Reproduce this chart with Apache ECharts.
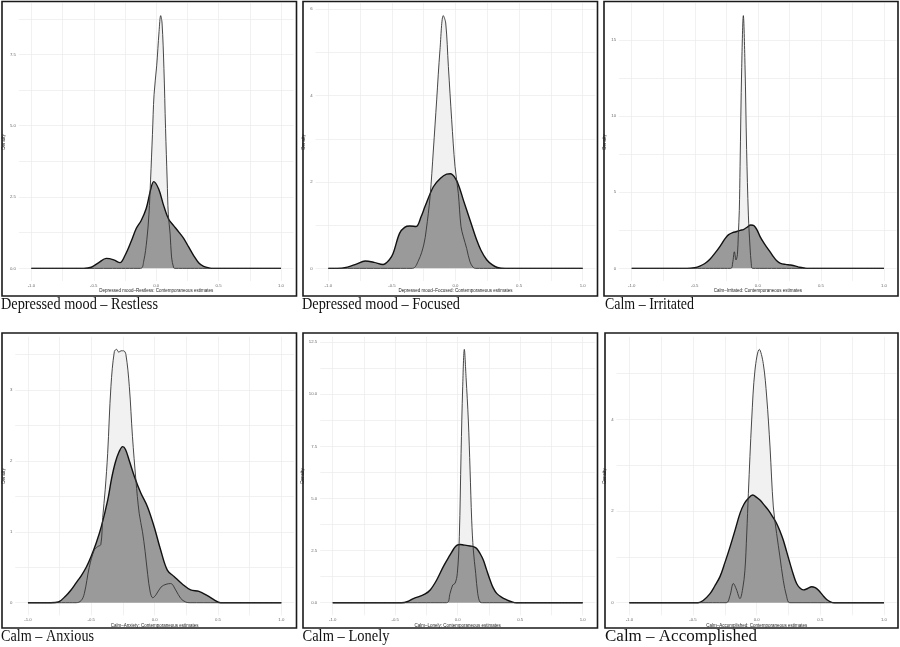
<!DOCTYPE html>
<html><head><meta charset="utf-8">
<script src="https://cdn.jsdelivr.net/npm/echarts@6/dist/echarts.min.js"></script>
<style>html,body{margin:0;padding:0;background:#fff}#c{width:900px;height:647px}</style>
</head><body><div id="c"></div>
<script>
// ---------- data ----------
const panelTitles = ['Depressed mood \u2013 Restless', 'Depressed mood \u2013 Focused', 'Calm \u2013 Irritated',
  'Calm \u2013 Anxious', 'Calm \u2013 Lonely', 'Calm \u2013 Accomplished'];
const xAxisTitles = ['Depressed mood\u2013Restless: Contemporaneous estimates', 'Depressed mood\u2013Focused: Contemporaneous estimates',
  'Calm\u2013Irritated: Contemporaneous estimates', 'Calm\u2013Anxiety: Contemporaneous estimates',
  'Calm\u2013Lonely: Contemporaneous estimates', 'Calm\u2013Accomplished: Contemporaneous estimates'];
const xMajorTicks = [-1, -0.5, 0, 0.5, 1];
const xMinorTicks = [-0.75, -0.25, 0.25, 0.75];
const yTicksRestless = [0, 2.5, 5, 7.5];
const yTicksFocused = [0, 2, 4, 6];
const yTicksIrritated = [0, 5, 10, 15];
const yTicksAnxious = [0, 1, 2, 3];
const yTicksLonely = [0, 2.5, 5, 7.5, 10, 12.5];
const yTicksAccomplished = [0, 2, 4];
const yTickDecimals = [1, 0, 0, 0, 1, 0];

const restlessNarrow = [[-1,0],[-0.125,0],[-0.1,0.25],[-0.075,1.0],[-0.058,1.9],[-0.045,3.1],[-0.03,4.7],[-0.017,6.1],[0.004,7.1],[0.023,8.3],[0.036,8.86],[0.047,8.6],[0.062,7.0],[0.075,4.9],[0.088,3.1],[0.097,1.9],[0.112,1.2],[0.123,0.4],[0.14,0.02],[0.15,0],[1,0]];
const restlessWide = [[-1,0],[-0.58,0],[-0.52,0.04],[-0.46,0.2],[-0.4,0.35],[-0.34,0.3],[-0.29,0.2],[-0.25,0.45],[-0.2,0.95],[-0.16,1.4],[-0.12,1.68],[-0.08,2.1],[-0.045,2.75],[-0.02,3.04],[0.02,2.78],[0.06,2.2],[0.1,1.72],[0.14,1.5],[0.18,1.28],[0.22,1.05],[0.26,0.75],[0.3,0.45],[0.34,0.2],[0.38,0.07],[0.43,0.01],[0.46,0],[1,0]];

const focusedNarrow = [[-1,0],[-0.34,0],[-0.29,0.19],[-0.25,0.54],[-0.23,0.89],[-0.2,1.66],[-0.174,2.74],[-0.148,3.9],[-0.122,5.06],[-0.096,5.85],[-0.077,5.68],[-0.056,4.67],[-0.03,3.44],[-0.004,2.36],[0.022,1.74],[0.043,0.97],[0.062,0.73],[0.088,0.46],[0.114,0.15],[0.14,0.02],[0.16,0],[1,0]];
const focusedWide = [[-1,0],[-0.93,0],[-0.85,0.03],[-0.78,0.1],[-0.71,0.17],[-0.64,0.14],[-0.57,0.09],[-0.52,0.2],[-0.49,0.35],[-0.44,0.81],[-0.4,0.95],[-0.36,0.98],[-0.31,0.97],[-0.27,1.2],[-0.24,1.43],[-0.174,1.89],[-0.12,2.08],[-0.07,2.18],[-0.04,2.19],[0.0,2.08],[0.03,1.88],[0.062,1.58],[0.114,1.12],[0.166,0.66],[0.2,0.42],[0.245,0.2],[0.29,0.08],[0.33,0.02],[0.39,0],[1,0]];

const irritatedNarrow = [[-1,0],[-0.215,0],[-0.2,0.35],[-0.186,1.09],[-0.173,0.55],[-0.162,0.9],[-0.155,2.2],[-0.147,3.8],[-0.141,6.7],[-0.128,13.2],[-0.115,16.6],[-0.102,13.4],[-0.089,7.8],[-0.075,3.5],[-0.062,1.4],[-0.052,0.3],[-0.043,0],[1,0]];
const irritatedWide = [[-1,0],[-0.56,0],[-0.5,0.05],[-0.46,0.15],[-0.42,0.32],[-0.38,0.6],[-0.34,1.0],[-0.3,1.45],[-0.26,1.95],[-0.234,2.2],[-0.2,2.35],[-0.167,2.42],[-0.14,2.5],[-0.115,2.55],[-0.085,2.7],[-0.056,2.85],[-0.03,2.8],[-0.005,2.5],[0.02,2.05],[0.045,1.7],[0.07,1.4],[0.1,1.05],[0.123,0.77],[0.15,0.5],[0.18,0.33],[0.22,0.26],[0.26,0.22],[0.3,0.15],[0.33,0.07],[0.37,0.02],[0.4,0],[1,0]];

const anxiousNarrow = [[-1,0],[-0.62,0],[-0.58,0.03],[-0.555,0.13],[-0.516,0.5],[-0.477,0.74],[-0.45,0.79],[-0.425,0.82],[-0.41,1.2],[-0.39,1.6],[-0.371,2.1],[-0.345,3.05],[-0.318,3.54],[-0.3,3.57],[-0.283,3.53],[-0.265,3.55],[-0.245,3.55],[-0.227,3.5],[-0.2,3.05],[-0.175,2.34],[-0.148,1.73],[-0.122,1.26],[-0.096,1.0],[-0.075,0.72],[-0.055,0.4],[-0.035,0.15],[-0.015,0.07],[0.01,0.11],[0.05,0.22],[0.09,0.26],[0.127,0.27],[0.166,0.18],[0.206,0.06],[0.245,0.01],[0.28,0],[1,0]];
const anxiousWide = [[-1,0],[-0.82,0],[-0.76,0.01],[-0.7,0.1],[-0.66,0.18],[-0.62,0.28],[-0.58,0.38],[-0.54,0.5],[-0.5,0.66],[-0.46,0.85],[-0.42,1.08],[-0.37,1.45],[-0.34,1.75],[-0.31,1.98],[-0.28,2.13],[-0.253,2.2],[-0.23,2.16],[-0.2,2.0],[-0.16,1.78],[-0.11,1.55],[-0.056,1.35],[-0.004,1.07],[0.048,0.74],[0.1,0.46],[0.153,0.37],[0.22,0.26],[0.284,0.18],[0.35,0.16],[0.416,0.1],[0.47,0.04],[0.52,0],[1,0]];

const lonelyNarrow = [[-1,0],[-0.09,0],[-0.061,0.45],[-0.04,0.85],[-0.021,0.93],[-0.003,1.41],[0.013,3.17],[0.027,7.16],[0.04,10.36],[0.053,12.15],[0.067,10.8],[0.085,8.76],[0.099,6.36],[0.112,3.96],[0.125,2.53],[0.144,1.41],[0.16,0.45],[0.179,0.03],[0.2,0],[1,0]];
const lonelyWide = [[-1,0],[-0.45,0],[-0.4,0.06],[-0.355,0.2],[-0.3,0.32],[-0.26,0.42],[-0.22,0.61],[-0.168,1.09],[-0.115,1.73],[-0.061,2.29],[-0.03,2.6],[-0.008,2.75],[0.02,2.79],[0.045,2.77],[0.099,2.72],[0.13,2.68],[0.152,2.6],[0.18,2.35],[0.205,2.05],[0.23,1.6],[0.259,1.09],[0.285,0.7],[0.312,0.45],[0.35,0.27],[0.392,0.14],[0.43,0.05],[0.47,0],[1,0]];

const accomplishedNarrow = [[-1,0],[-0.24,0],[-0.21,0.15],[-0.183,0.42],[-0.16,0.3],[-0.131,0.09],[-0.11,0.3],[-0.092,0.71],[-0.078,1.5],[-0.065,2.39],[-0.039,3.99],[-0.013,5.08],[0.021,5.53],[0.052,5.22],[0.079,4.49],[0.105,3.4],[0.131,2.09],[0.157,1.51],[0.183,1.0],[0.209,0.49],[0.236,0.13],[0.26,0],[1,0]];
const accomplishedWide = [[-1,0],[-0.46,0],[-0.42,0.05],[-0.366,0.2],[-0.33,0.36],[-0.288,0.57],[-0.25,0.87],[-0.209,1.22],[-0.17,1.58],[-0.131,1.95],[-0.1,2.15],[-0.065,2.28],[-0.031,2.35],[0.0,2.3],[0.026,2.24],[0.06,2.13],[0.092,2.02],[0.125,1.88],[0.157,1.73],[0.185,1.55],[0.209,1.37],[0.235,1.12],[0.262,0.86],[0.29,0.6],[0.314,0.42],[0.34,0.32],[0.366,0.28],[0.4,0.31],[0.432,0.35],[0.46,0.33],[0.484,0.28],[0.52,0.16],[0.55,0.07],[0.58,0.02],[0.61,0],[1,0]];

// ---------- assembly ----------
const narrowSets = [restlessNarrow, focusedNarrow, irritatedNarrow, anxiousNarrow, lonelyNarrow, accomplishedNarrow];
const wideSets = [restlessWide, focusedWide, irritatedWide, anxiousWide, lonelyWide, accomplishedWide];
const yTickSets = [yTicksRestless, yTicksFocused, yTicksIrritated, yTicksAnxious, yTicksLonely, yTicksAccomplished];

// layout: panel box, plot area, title placement (pixels)
const layout = [
  {bx: 2,   by: 1.5, bw: 294.5, bh: 294.5, L: 17.4,  R: 293.5, T: 3,     B: 281,   tx: 1,   ty: 304.5, tw: 157},
  {bx: 303, by: 1.5, bw: 294.5, bh: 294.5, L: 315.6, R: 595.4, T: 3,     B: 281,   tx: 302, ty: 304.5, tw: 158},
  {bx: 604, by: 1.5, bw: 294,   bh: 294.5, L: 619.1, R: 896.6, T: 3,     B: 281,   tx: 605, ty: 304.5, tw: 89},
  {bx: 2,   by: 333, bw: 294.5, bh: 295,   L: 14,    R: 294,   T: 336.7, B: 615.4, tx: 1,   ty: 636.5, tw: 93},
  {bx: 303, by: 333, bw: 294.5, bh: 295,   L: 320.2, R: 595.2, T: 336.7, B: 615.4, tx: 302.5, ty: 636.5, tw: 87},
  {bx: 605, by: 333, bw: 293,   bh: 295,   L: 616.6, R: 896.7, T: 336.7, B: 615.4, tx: 605, ty: 636.5, tw: 152}
];

const titleFont = '16.5px "Liberation Serif"';
const measureCtx = document.createElement('canvas').getContext('2d');
measureCtx.font = titleFont;

const grids = [], xAxes = [], yAxes = [], series = [], graphics = [];
const gridColor = '#ebebeb';
const tickText = {fontSize: 4.3, color: '#6a6a6a', fontFamily: 'Liberation Sans'};

layout.forEach((p, i) => {
  const maxY = Math.max(...narrowSets[i].map(d => d[1]), ...wideSets[i].map(d => d[1]));
  const yMin = -0.05 * maxY, yMax = 1.05 * maxY;
  const yMajor = yTickSets[i];
  const step = yMajor[1] - yMajor[0];
  const yAll = [];
  for (let k = 0; k < yMajor.length; k++) { yAll.push(yMajor[k]); yAll.push(yMajor[k] + step / 2); }
  const yGridVals = yAll.filter(v => v >= yMin && v <= yMax);
  const xGridVals = xMajorTicks.concat(xMinorTicks).sort((a, b) => a - b);

  grids.push({left: p.L, top: p.T, width: p.R - p.L, height: p.B - p.T, show: false, containLabel: false});
  xAxes.push({
    type: 'value', gridIndex: i, min: -1.1, max: 1.1,
    axisLine: {show: false},
    axisTick: {show: false, customValues: xGridVals},
    axisLabel: {customValues: xMajorTicks, formatter: v => v.toFixed(1), margin: 2.5, ...tickText},
    splitLine: {show: true, lineStyle: {color: gridColor, width: 0.7}},
    name: xAxisTitles[i], nameLocation: 'middle', nameGap: 6.5,
    nameTextStyle: {fontSize: 4.5, color: '#222', fontFamily: 'Liberation Sans'}
  });
  const densityCenter = p.bx + 4.8;
  yAxes.push({
    type: 'value', gridIndex: i, min: yMin, max: yMax,
    axisLine: {show: false},
    axisTick: {show: false, customValues: yGridVals},
    axisLabel: {customValues: yMajor, formatter: v => v.toFixed(yTickDecimals[i]), margin: 3, ...tickText},
    splitLine: {show: true, lineStyle: {color: gridColor, width: 0.7}},
    name: 'Density', nameLocation: 'middle', nameGap: p.L - densityCenter - 2.5,
    nameTextStyle: {fontSize: 4.7, color: '#222', fontFamily: 'Liberation Sans'}
  });
  series.push({
    type: 'line', xAxisIndex: i, yAxisIndex: i, data: narrowSets[i], smooth: 0.35, symbol: 'none',
    lineStyle: {width: 0}, areaStyle: {color: '#f1f1f1', opacity: 1}, z: 2, silent: true
  });
  series.push({
    type: 'line', xAxisIndex: i, yAxisIndex: i, data: wideSets[i], smooth: 0.35, symbol: 'none',
    lineStyle: {width: 1.4, color: '#111'}, areaStyle: {color: '#9a9a9a', opacity: 1}, z: 3, silent: true
  });
  series.push({
    type: 'line', xAxisIndex: i, yAxisIndex: i, data: narrowSets[i], smooth: 0.35, symbol: 'none',
    lineStyle: {width: 0.9, color: '#333'}, z: 4, silent: true
  });
  const natural = measureCtx.measureText(panelTitles[i]).width || p.tw;
  graphics.push({
    type: 'text', x: p.tx, y: p.ty, scaleX: p.tw / natural, scaleY: 1, silent: true, z: 100,
    style: {text: panelTitles[i], x: 0, y: 0, font: titleFont, fill: '#111', align: 'left', verticalAlign: 'middle'}
  });
  graphics.push({
    type: 'rect', shape: {x: p.bx, y: p.by, width: p.bw, height: p.bh},
    style: {fill: 'none', stroke: '#1a1a1a', lineWidth: 1.6}, z: 100, silent: true
  });
});

const chart = echarts.init(document.getElementById('c'), null, {renderer: 'canvas'});
chart.setOption({
  animation: false,
  backgroundColor: '#fff',
  grid: grids, xAxis: xAxes, yAxis: yAxes, series: series,
  graphic: graphics
});
</script>
</body></html>
